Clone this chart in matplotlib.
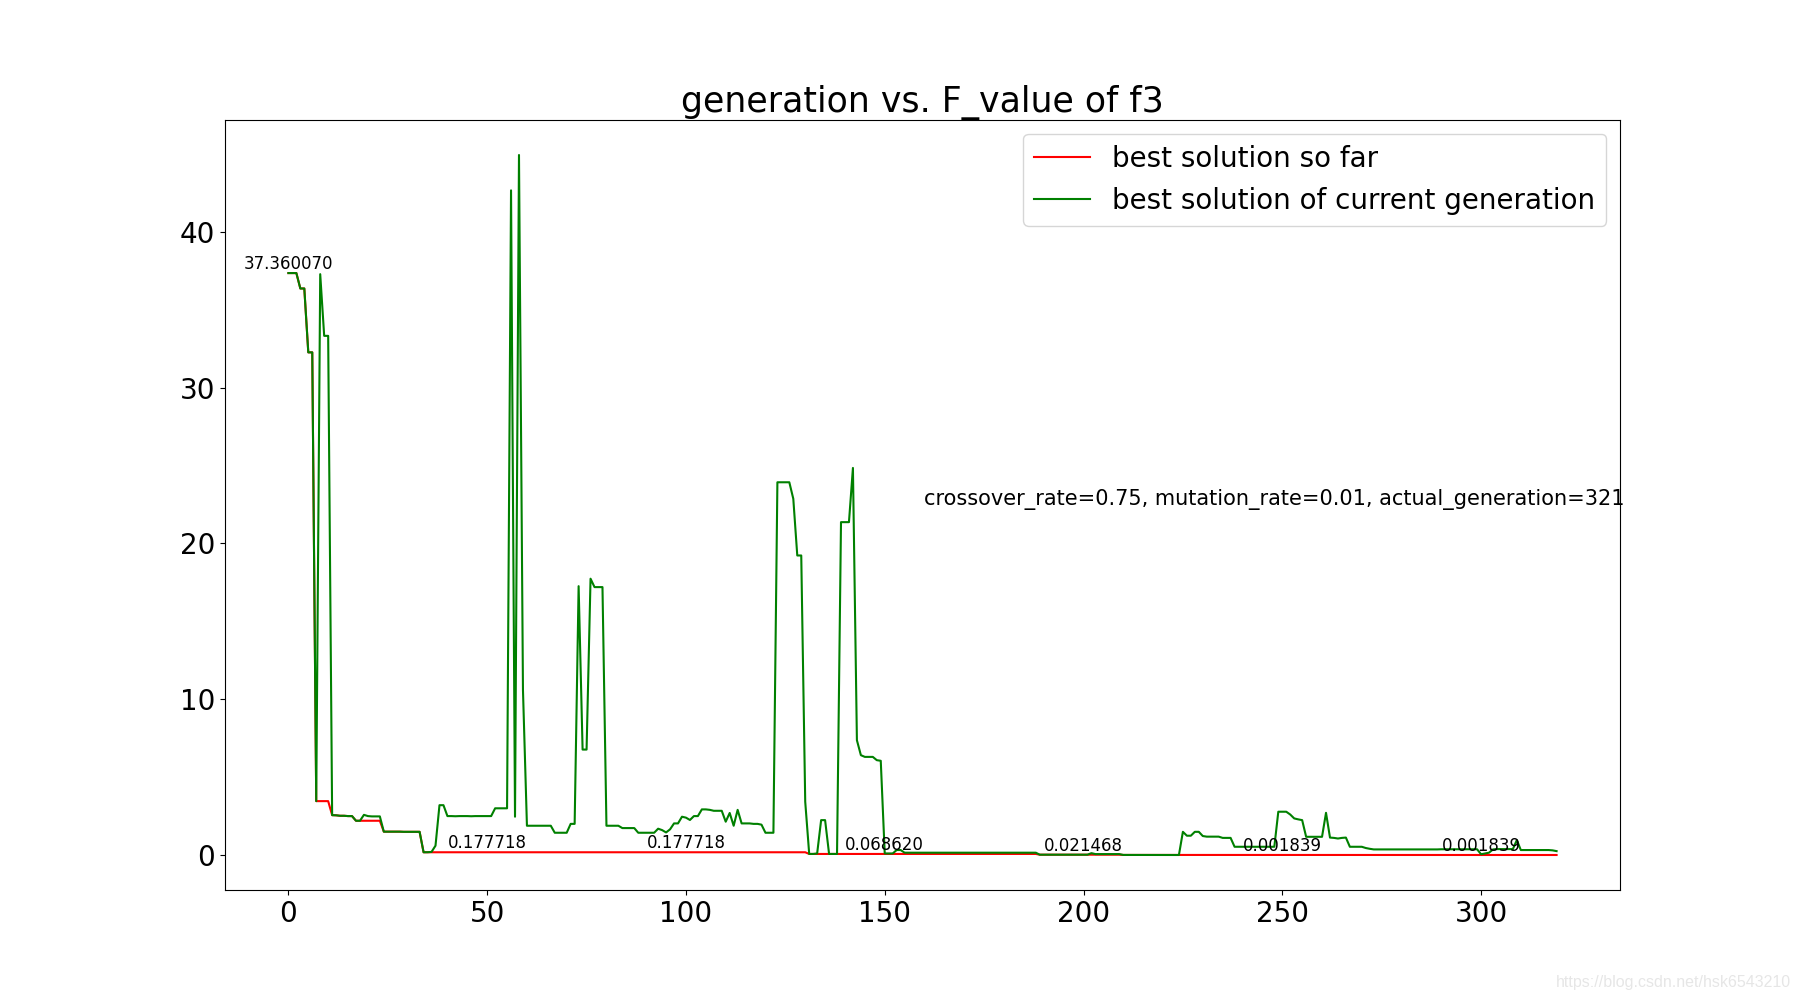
import numpy as np
import matplotlib
matplotlib.use("Agg")
import matplotlib.pyplot as plt

# best solution of current generation (gen 0..319)
current_best = [
    37.36007, 37.36007, 37.36007, 36.37, 36.37, 32.27, 32.27, 3.46, 37.29, 33.33,   # 0-9
    33.33, 2.56, 2.55, 2.52, 2.52, 2.5, 2.5, 2.2, 2.2, 2.58,                          # 10-19
    2.5, 2.48, 2.48, 2.48, 1.5, 1.5, 1.5, 1.5, 1.5, 1.49,                             # 20-29
    1.49, 1.49, 1.49, 1.49, 0.177718, 0.18, 0.2, 0.6, 3.2, 3.2,                       # 30-39
    2.5, 2.5, 2.49, 2.5, 2.5, 2.5, 2.49, 2.5, 2.5, 2.5,                               # 40-49
    2.5, 2.5, 3.0, 3.0, 3.0, 3.0, 42.67, 2.46, 44.94, 10.6,                           # 50-59
    1.88, 1.88, 1.88, 1.88, 1.88, 1.88, 1.88, 1.43, 1.43, 1.43,                       # 60-69
    1.43, 2.0, 2.0, 17.26, 6.77, 6.77, 17.74, 17.2, 17.2, 17.2,                       # 70-79
    1.88, 1.88, 1.88, 1.88, 1.73, 1.73, 1.73, 1.73, 1.43, 1.43,                       # 80-89
    1.43, 1.43, 1.43, 1.69, 1.6, 1.45, 1.65, 2.03, 2.03, 2.46,                        # 90-99
    2.4, 2.25, 2.5, 2.5, 2.93, 2.93, 2.9, 2.84, 2.84, 2.84,                           # 100-109
    2.14, 2.7, 1.88, 2.9, 2.03, 2.03, 2.03, 2.0, 2.0, 1.95,                           # 110-119
    1.43, 1.43, 1.43, 23.93, 23.93, 23.93, 23.93, 22.87, 19.23, 19.23,                # 120-129
    3.42, 0.06862, 0.07, 0.1, 2.24, 2.24, 0.07, 0.07, 0.07, 21.37,                    # 130-139
    21.37, 21.37, 24.85, 7.37, 6.41, 6.3, 6.3, 6.3, 6.09, 6.05,                       # 140-149
    0.1, 0.1, 0.1, 0.32, 0.32, 0.15, 0.15, 0.15, 0.15, 0.15,                          # 150-159
    0.15, 0.15, 0.15, 0.15, 0.15, 0.15, 0.15, 0.15, 0.15, 0.15,                       # 160-169
    0.15, 0.15, 0.15, 0.15, 0.15, 0.15, 0.15, 0.15, 0.15, 0.15,                       # 170-179
    0.15, 0.15, 0.15, 0.15, 0.15, 0.15, 0.15, 0.15, 0.15, 0.021468,                   # 180-189
    0.021468, 0.021468, 0.021468, 0.021468, 0.021468, 0.021468, 0.021468, 0.021468, 0.021468, 0.021468,  # 190-199
    0.021468, 0.021468, 0.12, 0.06, 0.06, 0.06, 0.06, 0.06, 0.06, 0.06,               # 200-209
    0.006, 0.006, 0.006, 0.006, 0.006, 0.006, 0.006, 0.006, 0.006, 0.006,             # 210-219
    0.001839, 0.001839, 0.001839, 0.001839, 0.001839, 1.49, 1.24, 1.24, 1.49, 1.49,   # 220-229
    1.22, 1.18, 1.18, 1.18, 1.18, 1.1, 1.1, 1.1, 0.53, 0.53,                          # 230-239
    0.53, 0.53, 0.53, 0.53, 0.53, 0.53, 0.53, 0.53, 0.53, 2.78,                       # 240-249
    2.78, 2.78, 2.6, 2.35, 2.29, 2.24, 1.17, 1.17, 1.17, 1.17,                        # 250-259
    1.17, 2.71, 1.12, 1.1, 1.06, 1.1, 1.12, 0.53, 0.53, 0.53,                         # 260-269
    0.53, 0.45, 0.4, 0.36, 0.36, 0.36, 0.36, 0.36, 0.36, 0.36,                        # 270-279
    0.36, 0.36, 0.36, 0.36, 0.36, 0.36, 0.36, 0.36, 0.36, 0.36,                       # 280-289
    0.37, 0.37, 0.37, 0.37, 0.37, 0.37, 0.37, 0.37, 0.37, 0.37,                       # 290-299
    0.05, 0.1, 0.15, 0.36, 0.38, 0.38, 0.38, 0.38, 0.38, 0.96,                        # 300-309
    0.32, 0.32, 0.32, 0.32, 0.32, 0.32, 0.32, 0.32, 0.3, 0.25,                        # 310-319
]

# best solution so far, as runs of (value, number of generations)
best_values = [37.36007, 36.37, 32.27, 3.46, 2.56, 2.55, 2.52, 2.5, 2.2, 1.5, 1.49,
               0.177718, 0.06862, 0.021468, 0.006, 0.001839]
best_counts = [3, 2, 2, 4, 1, 1, 2, 2, 7, 5, 5,
               97, 58, 21, 10, 100]

annot_gens = [0, 50, 100, 150, 200, 250, 300]
info_text = "crossover_rate=0.75, mutation_rate=0.01, actual_generation=321"
title_text = "generation vs. F_value of f3"

best_so_far = np.repeat(best_values, best_counts)
gens = np.arange(len(current_best))

fig = plt.figure(figsize=(18, 10), dpi=100)
ax = fig.add_subplot(111)
ax.plot(gens, best_so_far, color="red", label="best solution so far")
ax.plot(gens, current_best, color="green", label="best solution of current generation")

for g in annot_gens:
    ax.text(g, best_so_far[g], "%f" % best_so_far[g], ha="center", va="bottom", fontsize=12)

ax.text(160, max(current_best) / 2, info_text, fontsize=15)
ax.set_title(title_text, fontsize=25)
ax.tick_params(labelsize=20)
ax.legend(loc="upper right", fontsize=20)

fig.text(0.995, 0.017, "https://blog.csdn.net/hsk6543210", ha="right", va="center",
         fontsize=11.5, color="#e6e6e6", family="Liberation Sans")

fig.savefig("out.png", dpi=100)
